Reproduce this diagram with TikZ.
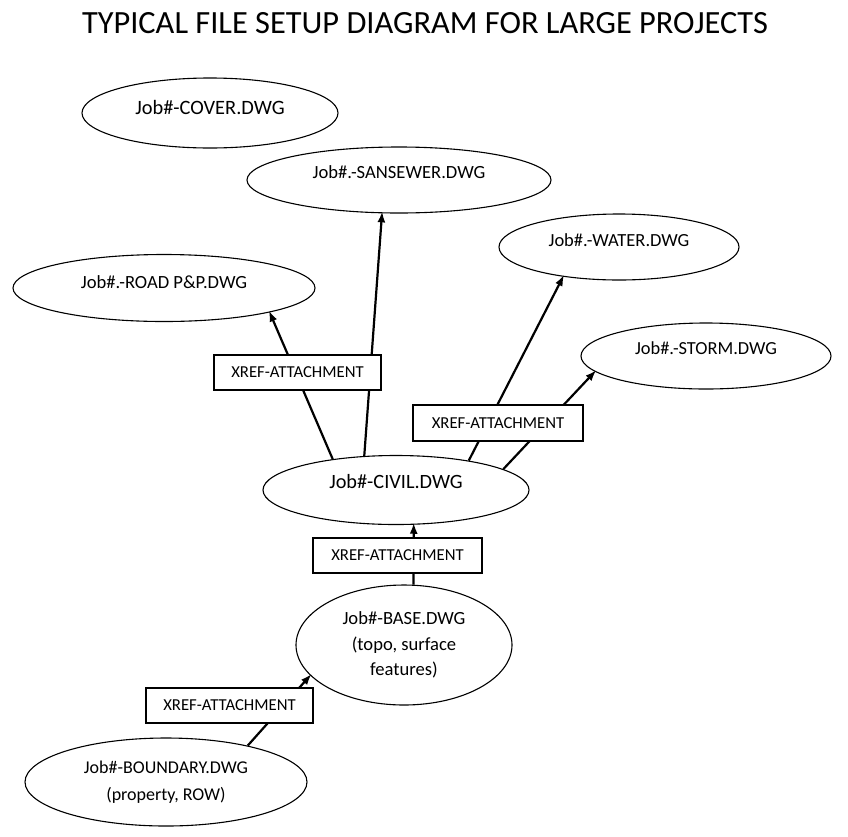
\documentclass[tikz,border=0pt]{standalone}
\usepackage{fontspec}
\setmainfont{Carlito}
\usetikzlibrary{shapes.geometric,arrows.meta}
\begin{document}
\begin{tikzpicture}[x=1pt,y=-1pt,
  ell/.style={ellipse,draw=black,line width=1.1pt,fill=white,inner sep=0pt,align=center},
  xbox/.style={rectangle,draw=black,line width=1.3pt,fill=white,inner sep=0pt,
    font=\fontsize{16.7}{20}\selectfont,minimum height=35pt},
  link/.style={line width=2.2pt,-{Latex[length=11pt,width=8pt]},shorten >=-2pt}
]
\useasboundingbox (0,0) rectangle (848,836);
\node[anchor=base,font=\fontsize{32.4}{38}\selectfont] (title) at (425,33)
  {TYPICAL FILE SETUP DIAGRAM FOR LARGE PROJECTS};

% ellipses
\node[ell,minimum width=256pt,minimum height=70pt,font=\fontsize{20.4}{24}\selectfont,
  text height=14.3pt,text depth=11.2pt] (cover) at (210,113) {Job\#-COVER.DWG};
\node[ell,minimum width=304pt,minimum height=66pt,font=\fontsize{18.6}{22}\selectfont,
  text height=13pt,text depth=15.1pt] (sansewer) at (399,180) {Job\#.-SANSEWER.DWG};
\node[ell,minimum width=302pt,minimum height=67pt,font=\fontsize{18.6}{22}\selectfont,
  text height=13pt,text depth=11.1pt] (road) at (164,288) {Job\#.-ROAD P\&P.DWG};
\node[ell,minimum width=240pt,minimum height=66pt,font=\fontsize{18.5}{22}\selectfont,
  text height=13pt,text depth=13.1pt] (water) at (619,247) {Job\#.-WATER.DWG};
\node[ell,minimum width=250pt,minimum height=66pt,font=\fontsize{18.4}{22}\selectfont,
  text height=13pt,text depth=15.1pt] (storm) at (706,356) {Job\#.-STORM.DWG};
\node[ell,minimum width=266pt,minimum height=69pt,font=\fontsize{20.3}{24}\selectfont,
  text height=14.2pt,text depth=17.2pt] (civil) at (396,490) {Job\#-CIVIL.DWG};
\node[ell,minimum width=216pt,minimum height=120pt,font=\fontsize{18.6}{25.5}\selectfont]
  (base) at (404,645) {Job\#-BASE.DWG\\(topo, surface\\features)};
\node[ell,minimum width=282pt,minimum height=88pt,font=\fontsize{18}{27}\selectfont]
  (boundary) at (166,782) {Job\#-BOUNDARY.DWG\\(property, ROW)};

% connectors
\draw[link] (civil.154.7) -- (road.-13.4);
\draw[link] (civil.133.7) -- (sansewer.-117.4);
\draw[link] (civil.22.7) -- (water.208.7);
\draw[link] (civil.11.7) -- (storm.188.1);
\draw[link] (base.81.4) -- (civil.-63.6);
\draw[link] (boundary.24) -- (base.198.8);

% labels on connectors
\node[xbox,minimum width=167pt] (xa) at (297.5,372.5) {XREF-ATTACHMENT};
\node[xbox,minimum width=170pt,minimum height=36pt] (xb) at (498,423) {XREF-ATTACHMENT};
\node[xbox,minimum width=169pt] (xc) at (397.5,555.5) {XREF-ATTACHMENT};
\node[xbox,minimum width=167pt] (xd) at (229.5,705.5) {XREF-ATTACHMENT};
\end{tikzpicture}
\end{document}
